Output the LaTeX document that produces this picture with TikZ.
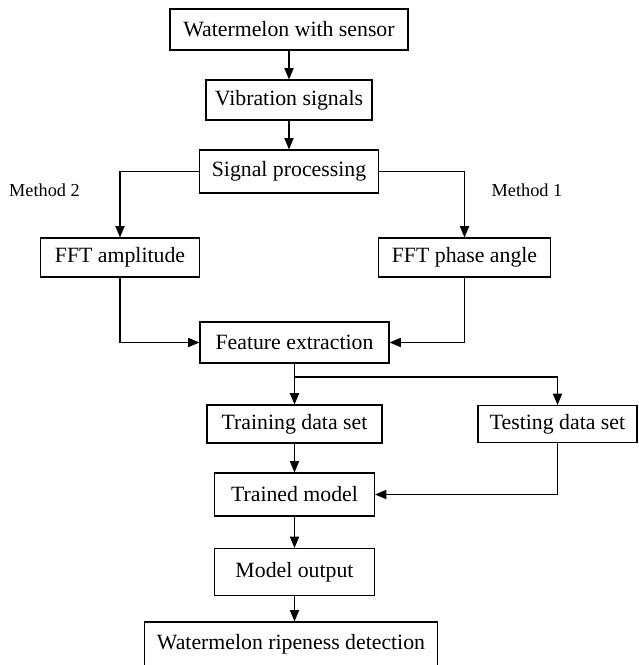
\documentclass[tikz,border=0pt]{standalone}
\usepackage{fontspec}
\setmainfont{Liberation Serif}
\usepackage{tikz}
\usetikzlibrary{arrows,arrows.meta}

\begin{document}
\begin{tikzpicture}[->,>={Stealth[inset=0pt,length=8pt,width=6.5pt]},auto,node distance=1.775cm,
                    line width=0.9pt]
  \tikzstyle{block}=[draw,rectangle,inner sep=0pt,line width=0.8pt,font=\fontsize{15.5}{18}\selectfont]
  \tikzstyle{method}=[font=\fontsize{13}{16}\selectfont]
  \useasboundingbox (0,0) rectangle (15.975,-16.625);

  \node[block,minimum width=5.95cm,minimum height=1.025cm] (WM) at (7.225,-0.7375) {Watermelon with sensor};
  \node[block,minimum width=4.15cm,minimum height=1cm]     (VS) [below of=WM,node distance=1.7625cm] {Vibration signals};
  \node[block,minimum width=4.475cm,minimum height=1.075cm] (SP) [below of=VS,node distance=1.7875cm] {Signal processing};
  \node[block,minimum width=3.975cm,minimum height=0.975cm] (AMP) [below of=SP,node distance=2.15cm,xshift=-4.225cm] {FFT amplitude};
  \node[block,minimum width=4.3cm,minimum height=0.975cm]   (PHA) [below of=SP,node distance=2.15cm,xshift=4.3875cm] {FFT phase angle};
  \node[block,minimum width=4.725cm,minimum height=1.025cm] (FE) [below of=SP,node distance=4.275cm,xshift=0.1375cm] {Feature extraction};
  \node[block,minimum width=4.375cm,minimum height=0.95cm]  (TR) [below of=FE,node distance=2.0375cm] {Training data set};
  \node[block,minimum width=3.975cm,minimum height=0.925cm] (TE) [right of=TR,node distance=6.575cm] {Testing data set};
  \node[block,minimum width=4cm,minimum height=1.075cm]     (TM) [below of=TR,node distance=1.7625cm] {Trained model};
  \node[block,minimum width=4cm,minimum height=1.175cm]     (MO) [below of=TM,node distance=1.9375cm] {Model output};
  \node[block,minimum width=7.325cm,minimum height=1.125cm] (RD) [below of=MO,node distance=1.8125cm,xshift=-0.0875cm] {Watermelon ripeness detection};

  \node[method] (M2) at (1.1125,-4.75) {Method 2};
  \node[method] (M1) at (13.175,-4.75) {Method 1};

  \coordinate[below of=FE,node distance=0.8625cm] (split);

  \path (WM) edge (VS)
        (VS) edge (SP)
        (FE) edge (TR)
        (TR) edge (TM)
        (TM) edge (MO)
        (MO.south) edge (MO.south |- RD.north);
  \draw (SP.west) -| (AMP.north);
  \draw (SP.east) -| (PHA.north);
  \draw (AMP.south) |- (FE.west);
  \draw (PHA.south) |- (FE.east);
  \draw (split) -| (TE.north);
  \draw (TE.south) |- (TM.east);
\end{tikzpicture}
\end{document}
